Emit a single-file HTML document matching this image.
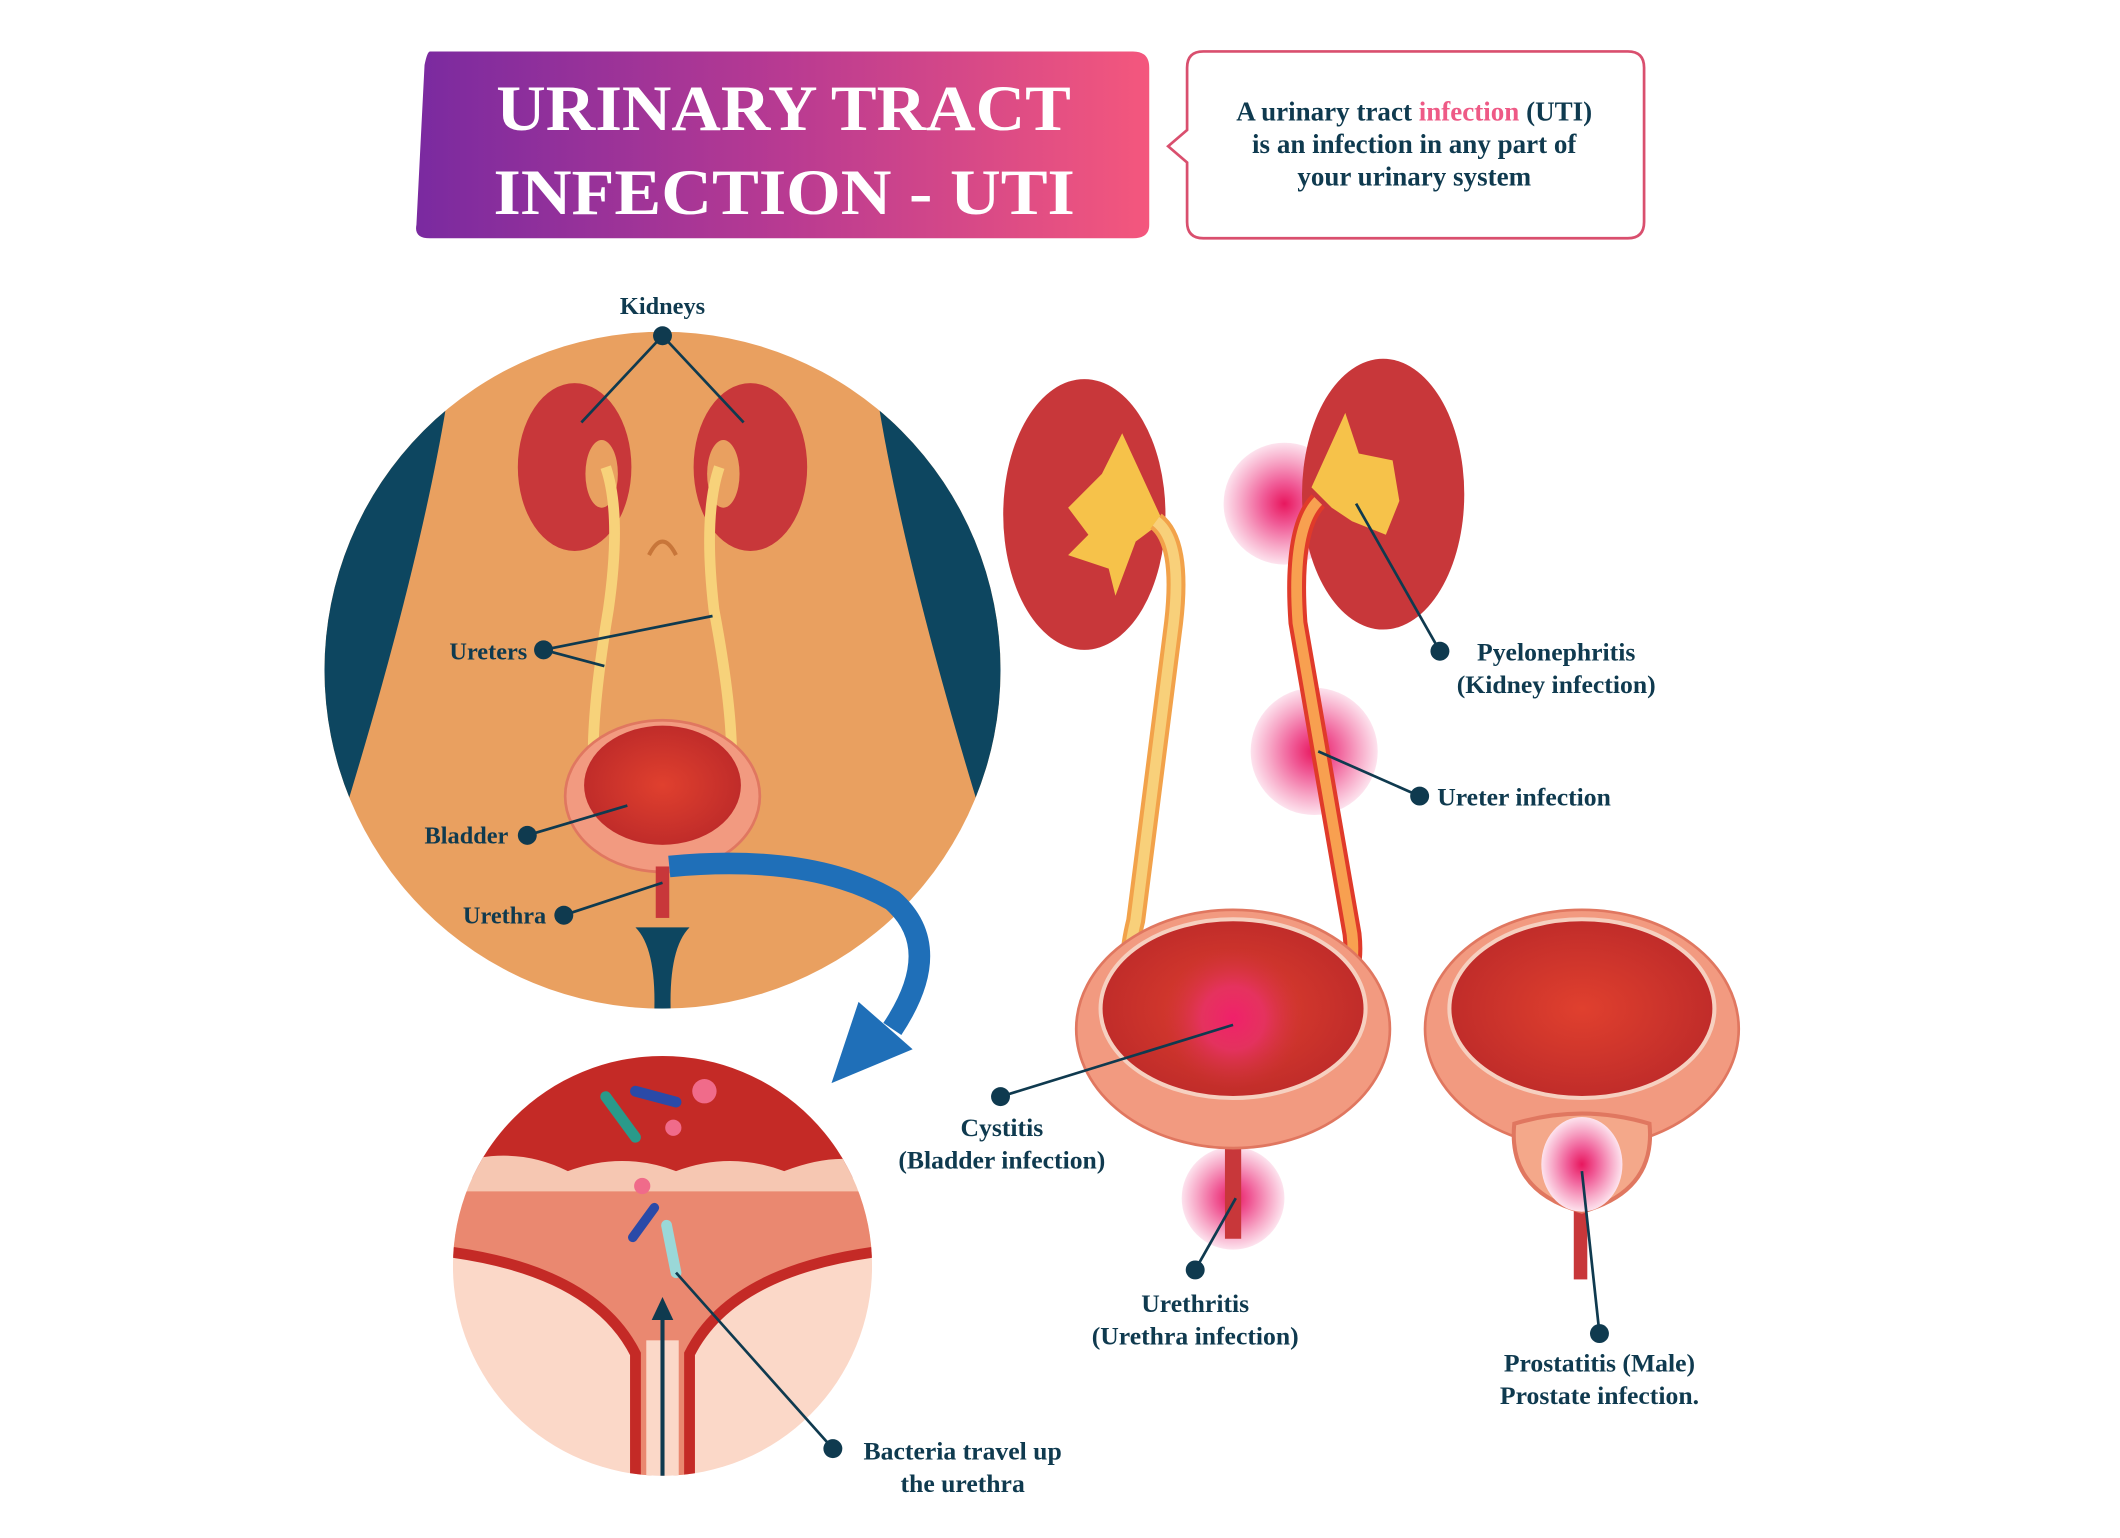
<!DOCTYPE html>
<html><head><meta charset="utf-8"><style>
html,body{margin:0;padding:0;background:#fff;}
svg{display:block;}
text{font-family:"Liberation Serif",serif;font-weight:bold;fill:#0f3a4f;}
</style></head><body>
<svg width="2120" height="1538" viewBox="0 0 1568 1136" preserveAspectRatio="none">
<defs>
<linearGradient id="tg" x1="0" x2="1" y1="0" y2="0"><stop offset="0" stop-color="#7a2aa0"/><stop offset="0.5" stop-color="#b83a92"/><stop offset="1" stop-color="#f4577d"/></linearGradient>
<radialGradient id="glow"><stop offset="0" stop-color="#e8175e"/><stop offset="0.35" stop-color="#f05a96"/><stop offset="0.7" stop-color="#f7a6c6"/><stop offset="1" stop-color="#fde3ee"/></radialGradient>
<radialGradient id="glow2"><stop offset="0" stop-color="#f0206a"/><stop offset="0.45" stop-color="#e8306a" stop-opacity="0.8"/><stop offset="1" stop-color="#d03040" stop-opacity="0"/></radialGradient>
<radialGradient id="bl"><stop offset="0" stop-color="#e0402e"/><stop offset="1" stop-color="#c02c2a"/></radialGradient>
<clipPath id="c1"><circle cx="490" cy="495" r="250"/></clipPath>
<clipPath id="c2"><circle cx="490" cy="935" r="155"/></clipPath>
</defs>
<path d="M318 38 H838 Q850 38 850 50 V166 Q850 176 838 176 H318 Q306 176 308 166 L314 48 Q316 38 318 38Z" fill="url(#tg)"/>
<text x="367" y="96" textLength="425" lengthAdjust="spacingAndGlyphs" font-size="48" style="fill:#fff">URINARY TRACT</text>
<text x="365" y="158" textLength="430" lengthAdjust="spacingAndGlyphs" font-size="48" style="fill:#fff">INFECTION - UTI</text>
<path d="M890 38 H1204 Q1216 38 1216 50 V164 Q1216 176 1204 176 H890 Q878 176 878 164 V120 L864 108 L878 96 V50 Q878 38 890 38Z" fill="#fff" stroke="#d94f6e" stroke-width="2"/>
<text x="1046" y="89" text-anchor="middle" font-size="20">A urinary tract <tspan style="fill:#ee5a86">infection</tspan> (UTI)</text>
<text x="1046" y="113" text-anchor="middle" font-size="20">is an infection in any part of</text>
<text x="1046" y="137" text-anchor="middle" font-size="20">your urinary system</text>
<g clip-path="url(#c1)">
<rect x="240" y="245" width="500" height="500" fill="#e9a060"/>
<path d="M240 280 L330 300 Q310 420 255 600 L240 640Z" fill="#0d4660"/>
<path d="M740 280 L650 300 Q670 420 725 600 L740 640Z" fill="#0d4660"/>
<path d="M470 685 L510 685 Q495 700 496 745 L484 745 Q485 700 470 685Z" fill="#0d4660"/>
</g>
<ellipse cx="425" cy="345" rx="42" ry="62" fill="#c8373a"/>
<ellipse cx="555" cy="345" rx="42" ry="62" fill="#c8373a"/>
<ellipse cx="445" cy="350" rx="12" ry="25" fill="#e9a060"/>
<ellipse cx="535" cy="350" rx="12" ry="25" fill="#e9a060"/>
<path d="M448 345 Q460 380 450 450 Q435 540 440 580" stroke="#f7d27a" stroke-width="8" fill="none"/>
<path d="M532 345 Q520 380 528 450 Q545 540 540 580" stroke="#f7d27a" stroke-width="8" fill="none"/>
<path d="M480 410 Q490 390 500 410" stroke="#c8763a" stroke-width="3" fill="none"/>
<ellipse cx="490" cy="588" rx="72" ry="56" fill="#f29a80" stroke="#e07760" stroke-width="2"/>
<ellipse cx="490" cy="580" rx="58" ry="44" fill="url(#bl)"/>
<rect x="485" y="640" width="10" height="38" fill="#c8373a"/>
<path d="M495 640 Q600 630 660 665 Q700 700 660 760" stroke="#1f6fb8" stroke-width="16" fill="none"/>
<path d="M615 800 L635 740 L675 775Z" fill="#1f6fb8"/>
<g clip-path="url(#c2)">
<rect x="335" y="780" width="310" height="310" fill="#fbd8c8"/>
<rect x="335" y="780" width="310" height="90" fill="#c42a26"/>
<path d="M335 860 Q380 845 420 865 Q460 850 500 865 Q540 850 580 865 Q620 850 645 860 V885 H335Z" fill="#f6c7b2"/>
<path d="M335 880 H645 V925 Q540 940 510 1000 L510 1090 H470 L470 1000 Q440 940 335 925Z" fill="#ea8870"/>
<path d="M335 925 Q440 940 470 1000 V1090 M645 925 Q540 940 510 1000 V1090" stroke="#c42a26" stroke-width="8" fill="none"/>
<rect x="478" y="990" width="24" height="100" fill="#fbd8c8"/>
<line x1="490" y1="1120" x2="490" y2="970" stroke="#0f3a4f" stroke-width="3"/>
<path d="M482 975 L490 958 L498 975Z" fill="#0f3a4f"/>
</g>
<line x1="448" y1="810" x2="470" y2="840" stroke="#2a9a8a" stroke-width="8" stroke-linecap="round"/>
<line x1="470" y1="806" x2="500" y2="814" stroke="#2a4aa8" stroke-width="8" stroke-linecap="round"/>
<circle cx="521" cy="806" r="9" fill="#f06b8a"/>
<circle cx="498" cy="833" r="6" fill="#f06b8a"/>
<circle cx="475" cy="876" r="6" fill="#f06b8a"/>
<line x1="468" y1="914" x2="484" y2="892" stroke="#2a4aa8" stroke-width="7" stroke-linecap="round"/>
<line x1="493" y1="905" x2="500" y2="940" stroke="#9ad8d8" stroke-width="8" stroke-linecap="round"/>
<circle cx="950" cy="372" r="45" fill="url(#glow)"/>
<circle cx="972" cy="555" r="47" fill="url(#glow)"/>
<circle cx="912" cy="885" r="38" fill="url(#glow)"/>
<ellipse cx="802" cy="380" rx="60" ry="100" fill="#c8373a"/>
<ellipse cx="1023" cy="365" rx="60" ry="100" fill="#c8373a"/>
<path d="M830 320 L815 350 L790 375 L805 395 L790 410 L820 420 L825 440 L840 400 L860 385 Z" fill="#f6c24a"/>
<path d="M995 305 L1005 335 L1030 340 L1035 370 L1025 395 L1000 385 L985 375 L970 360 Z" fill="#f6c24a"/>
<path d="M855 385 Q875 400 868 460 L840 680 Q825 740 860 745" stroke="#f2a24a" stroke-width="14" fill="none"/>
<path d="M855 385 Q875 400 868 460 L840 680 Q825 740 860 745" stroke="#f8d07a" stroke-width="8" fill="none"/>
<path d="M975 370 Q955 390 960 460 L1000 690 Q1005 735 970 745" stroke="#e03a2a" stroke-width="14" fill="none"/>
<path d="M975 370 Q955 390 960 460 L1000 690 Q1005 735 970 745" stroke="#f8a050" stroke-width="8" fill="none"/>
<path d="M906 840 L918 840 L918 915 L906 915Z" fill="#c8373a"/>
<ellipse cx="912" cy="760" rx="116" ry="88" fill="#f29a80" stroke="#e07760" stroke-width="2"/>
<ellipse cx="912" cy="745" rx="98" ry="66" fill="url(#bl)" stroke="#f6d0c0" stroke-width="3"/>
<circle cx="912" cy="752" r="52" fill="url(#glow2)"/>
<rect x="1164" y="880" width="10" height="65" fill="#c8373a"/>
<ellipse cx="1170" cy="760" rx="116" ry="88" fill="#f29a80" stroke="#e07760" stroke-width="2"/>
<ellipse cx="1170" cy="745" rx="98" ry="66" fill="url(#bl)" stroke="#f6d0c0" stroke-width="3"/>
<path d="M1120 830 Q1170 815 1220 830 Q1225 880 1170 895 Q1115 880 1120 830Z" fill="#f4a88a" stroke="#e07760" stroke-width="3"/>
<ellipse cx="1170" cy="860" rx="30" ry="35" fill="url(#glow)"/>
<g stroke="#0f3a4f" stroke-width="2" fill="none">
<path d="M490 248 L430 312 M490 248 L550 312"/>
<path d="M402 480 L527 455 M402 480 L447 492"/>
<path d="M390 617 L464 595"/>
<path d="M417 676 L490 652"/>
<path d="M1065 481 L1003 372"/>
<path d="M1050 588 L975 555"/>
<path d="M740 810 L912 757"/>
<path d="M884 938 L914 885"/>
<path d="M1183 985 L1170 865"/>
<path d="M616 1070 L500 940"/>
</g>
<g fill="#0f3a4f">
<circle cx="490" cy="248" r="7"/><circle cx="402" cy="480" r="7"/><circle cx="390" cy="617" r="7"/><circle cx="417" cy="676" r="7"/>
<circle cx="1065" cy="481" r="7"/><circle cx="1050" cy="588" r="7"/><circle cx="740" cy="810" r="7"/><circle cx="884" cy="938" r="7"/><circle cx="1183" cy="985" r="7"/><circle cx="616" cy="1070" r="7"/>
</g>
<text x="490" y="232" text-anchor="middle" font-size="18">Kidneys</text>
<text x="390" y="487" text-anchor="end" font-size="18">Ureters</text>
<text x="376" y="623" text-anchor="end" font-size="18">Bladder</text>
<text x="404" y="682" text-anchor="end" font-size="18">Urethra</text>
<text x="1151" y="488" text-anchor="middle" font-size="19">Pyelonephritis</text>
<text x="1151" y="512" text-anchor="middle" font-size="19">(Kidney infection)</text>
<text x="1063" y="595" font-size="19">Ureter infection</text>
<text x="741" y="839" text-anchor="middle" font-size="19">Cystitis</text>
<text x="741" y="863" text-anchor="middle" font-size="19">(Bladder infection)</text>
<text x="884" y="969" text-anchor="middle" font-size="19">Urethritis</text>
<text x="884" y="993" text-anchor="middle" font-size="19">(Urethra infection)</text>
<text x="1183" y="1013" text-anchor="middle" font-size="19">Prostatitis (Male)</text>
<text x="1183" y="1037" text-anchor="middle" font-size="19">Prostate infection.</text>
<text x="712" y="1078" text-anchor="middle" font-size="19">Bacteria travel up</text>
<text x="712" y="1102" text-anchor="middle" font-size="19">the urethra</text>
</svg>
</body></html>
